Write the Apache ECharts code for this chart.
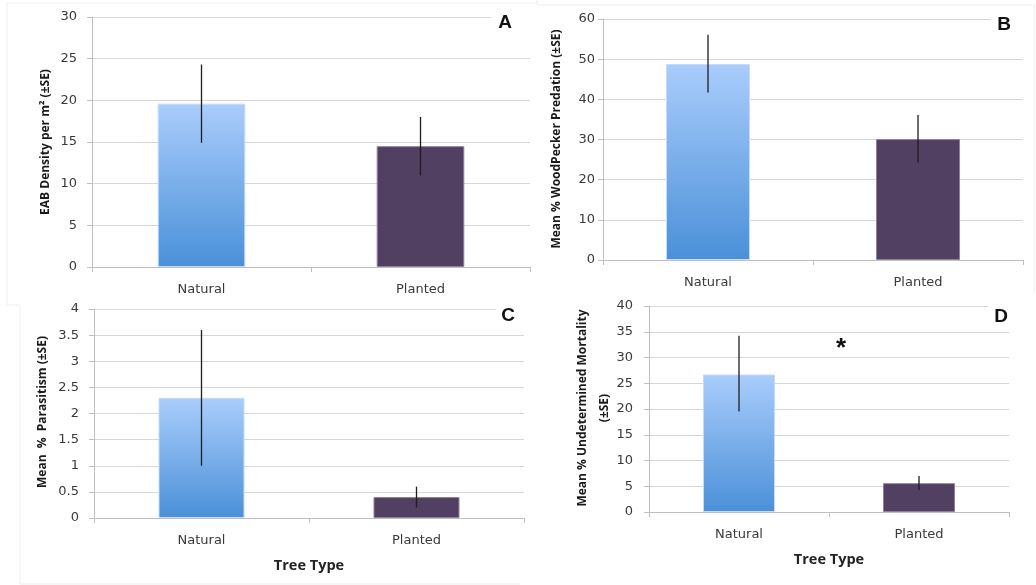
<!DOCTYPE html>
<html>
<head>
<meta charset="utf-8">
<script src="https://cdn.jsdelivr.net/npm/echarts@6/dist/echarts.min.js"></script>
<style>html,body{margin:0;padding:0;background:#fff}#c{width:1036px;height:585px}</style>
</head>
<body>
<div id="c"></div>
<script>
// ---- data ----
const categories = ['Natural', 'Planted'];
// A: EAB density per m2
const eabDensity = [19.6, 14.5];
const eabLow = [14.9, 11.0];
const eabHigh = [24.3, 18.0];
// B: woodpecker predation
const woodpecker = [48.8, 30.1];
const woodpeckerLow = [41.7, 24.3];
const woodpeckerHigh = [56.1, 36.1];
// C: parasitism
const parasitism = [2.3, 0.4];
const parasitismLow = [1.0, 0.2];
const parasitismHigh = [3.6, 0.6];
// D: undetermined mortality
const mortality = [26.7, 5.6];
const mortalityLow = [19.5, 4.2];
const mortalityHigh = [34.2, 7.0];
// y-axis ranges
const yMaxA = 30, yStepA = 5;
const yMaxB = 60, yStepB = 10;
const yMaxC = 4, yStepC = 0.5;
const yMaxD = 40, yStepD = 5;

const chart = echarts.init(document.getElementById('c'), null, {renderer: 'canvas'});

const naturalStyle = {
  color: new echarts.graphic.LinearGradient(0, 0, 0, 1, [
    {offset: 0, color: '#aacdfc'},
    {offset: 1, color: '#4a90d8'}
  ]),
  borderColor: '#c6dcf5', borderWidth: 1
};
const plantedStyle = {color: '#514061', borderColor: '#8e809b', borderWidth: 1};

const grids = [
  {left: 92, right: 506, top: 17, bottom: 318},
  {left: 603, right: 13, top: 19, bottom: 325},
  {left: 94, right: 512, top: 309, bottom: 67},
  {left: 649, right: 27, top: 306, bottom: 73}
];
const tickFont = {fontFamily: 'DejaVu Sans', fontSize: 13, color: '#3a3a3a'};

function xAxisFor(i, withName) {
  return {
    type: 'category', gridIndex: i, data: categories,
    axisLine: {show: true, lineStyle: {color: '#bfbfbf', width: 1}},
    axisTick: {show: true, length: 5, lineStyle: {color: '#bfbfbf'}},
    axisLabel: Object.assign({margin: 16}, tickFont),
    name: withName ? 'Tree Type' : '',
    nameLocation: 'middle', nameGap: 40,
    nameTextStyle: {fontFamily: 'Open Sans', fontWeight: 'bold', fontSize: 14.5, color: '#222'}
  };
}
function yAxisFor(i, max, step, margin) {
  return {
    type: 'value', gridIndex: i, min: 0, max: max, interval: step,
    axisLine: {show: true, lineStyle: {color: '#bfbfbf', width: 1}},
    axisTick: {show: true, length: 5, lineStyle: {color: '#bfbfbf'}},
    splitLine: {show: true, lineStyle: {color: '#d6d6d6', width: 1.2}},
    axisLabel: Object.assign({margin: margin}, tickFont)
  };
}
function barSeries(i, vals) {
  return {
    type: 'bar', xAxisIndex: i, yAxisIndex: i, barWidth: '40%',
    data: vals.map((v, k) => ({value: v, itemStyle: k === 0 ? naturalStyle : plantedStyle})),
    silent: true, z: 2
  };
}
function errSeries(i, lo, hi) {
  return {
    type: 'custom', xAxisIndex: i, yAxisIndex: i, z: 3, silent: true,
    data: categories.map((c, k) => [k, lo[k], hi[k]]),
    encode: {x: 0, y: [1, 2]},
    renderItem: function (params, api) {
      const a = api.coord([api.value(0), api.value(1)]);
      const b = api.coord([api.value(0), api.value(2)]);
      return {type: 'line', shape: {x1: a[0], y1: a[1], x2: b[0], y2: b[1]},
              style: {stroke: '#1e1e1e', lineWidth: 1.3}};
    }
  };
}

const nameStyle = {fontFamily: 'Open Sans', fontWeight: 'bold', fontSize: 12, fill: '#1a1a1a'};
function vtext(x, y, t) {
  return {type: 'text', x: x, y: y, rotation: Math.PI / 2, z: 10,
          style: Object.assign({text: t, align: 'center', verticalAlign: 'middle'}, nameStyle)};
}
function letter(x, y, t) {
  return {type: 'text', x: x, y: y, z: 10,
          style: {text: t, fontFamily: 'Liberation Sans', fontWeight: 'bold', fontSize: 19, fill: '#111',
                  align: 'center', verticalAlign: 'middle'}};
}
function whiteBox(x, y, w, h) {
  return {type: 'rect', shape: {x: x, y: y, width: w, height: h}, z: 9, style: {fill: '#fff'}};
}
const frame = {stroke: '#eeeeee', lineWidth: 1, fill: null};

chart.setOption({
  animation: false,
  backgroundColor: '#fff',
  grid: grids,
  xAxis: [xAxisFor(0, false), xAxisFor(1, false), xAxisFor(2, true), xAxisFor(3, true)],
  yAxis: [yAxisFor(0, yMaxA, yStepA, 15), yAxisFor(1, yMaxB, yStepB, 8),
          yAxisFor(2, yMaxC, yStepC, 15), yAxisFor(3, yMaxD, yStepD, 16)],
  series: [
    barSeries(0, eabDensity), errSeries(0, eabLow, eabHigh),
    barSeries(1, woodpecker), errSeries(1, woodpeckerLow, woodpeckerHigh),
    barSeries(2, parasitism), errSeries(2, parasitismLow, parasitismHigh),
    barSeries(3, mortality), errSeries(3, mortalityLow, mortalityHigh)
  ],
  graphic: [
    {type: 'polyline', z: 0, shape: {points: [[537, 3], [7, 3], [7, 305], [20, 305]]}, style: frame},
    {type: 'polyline', z: 0, shape: {points: [[537, 0], [537, 5], [1034, 5], [1034, 292]]}, style: frame},
    {type: 'polyline', z: 0, shape: {points: [[20, 306], [20, 584], [520, 584]]}, style: frame},
    whiteBox(491, 10, 40, 14),
    whiteBox(991, 12, 34, 14),
    whiteBox(496, 302, 34, 31),
    whiteBox(988, 300, 24, 30),
    letter(505, 23, 'A'),
    letter(1004, 25, 'B'),
    letter(508, 316, 'C'),
    letter(1001, 317, 'D'),
    {type: 'text', x: 841, y: 349, z: 10,
     style: {text: '*', fontFamily: 'Liberation Sans', fontWeight: 'bold', fontSize: 26, fill: '#111',
             align: 'center', verticalAlign: 'middle'}},
    vtext(46, 142, 'EAB Density per m² (±SE)'),
    vtext(557, 139, 'Mean % WoodPecker Predation (±SE)'),
    vtext(43, 412, 'Mean  %  Parasitism (±SE)'),
    vtext(583, 408, 'Mean % Undetermined Mortality'),
    vtext(605, 408, '(±SE)')
  ]
});
</script>
</body>
</html>
